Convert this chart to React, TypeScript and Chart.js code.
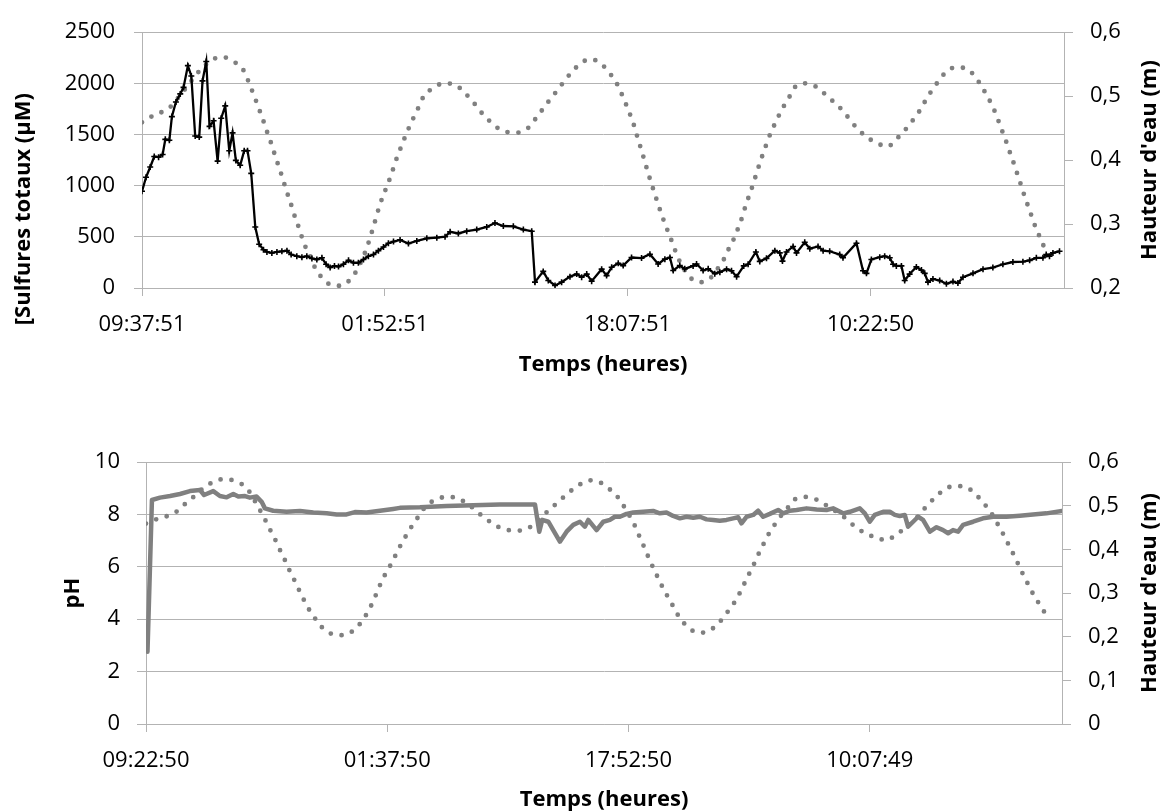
import { useEffect, useRef } from "react";
import { Chart, registerables } from "chart.js";

Chart.register(...registerables);

// ---- Time axes (hours since first sample) ----
const timeSpanHours = 61.7;
const timeTickHours = [0, 16.25, 32.5, 48.75];
const sulfideTimeLabels = ["09:37:51", "01:52:51", "18:07:51", "10:22:50"];
const phTimeLabels = ["09:22:50", "01:37:50", "17:52:50", "10:07:49"];

// ---- Value axes ----
const sulfideTicks = [0, 500, 1000, 1500, 2000, 2500];
const phTicks = [0, 2, 4, 6, 8, 10];
const waterTicksUpper = [0.2, 0.3, 0.4, 0.5, 0.6];
const waterTicksLower = [0, 0.1, 0.2, 0.3, 0.4, 0.5, 0.6];

// ---- Total sulfides (µM) ----
const sulfideHours = [
  0, 0.27, 0.55, 0.82, 1.11, 1.38, 1.56, 1.83, 2.0, 2.27, 2.56, 2.78, 3.07, 3.3, 3.56, 3.83,
  4.05, 4.3, 4.52, 4.79, 5.06, 5.3, 5.57, 5.84, 6.06, 6.28, 6.57, 6.84, 7.06, 7.31, 7.58, 7.84,
  8.13, 8.36, 8.69, 9.03, 9.36, 9.7, 9.98, 10.36, 10.7, 11.03, 11.37, 11.7, 12.04, 12.32, 12.59,
  12.88, 13.15, 13.48, 13.82, 14.15, 14.48, 14.82, 15.15, 15.49, 15.82, 16.16, 16.49, 16.83,
  17.27, 17.83, 18.39, 19.06, 19.73, 20.28, 20.62, 21.17, 21.73, 22.4, 23.07, 23.62, 24.18,
  24.85, 25.52, 26.08, 26.3, 26.85, 27.19, 27.64, 28.08, 28.64, 29.09, 29.42, 29.76, 30.09,
  30.76, 31.09, 31.43, 31.87, 32.2, 32.76, 33.43, 33.99, 34.54, 34.99, 35.33, 35.55, 35.99,
  36.32, 36.88, 37.11, 37.55, 37.89, 38.33, 38.67, 39.12, 39.45, 39.79, 40.27, 40.56, 41.08,
  41.34, 41.79, 42.35, 42.68, 42.86, 43.13, 43.57, 43.8, 44.35, 44.69, 45.24, 45.58, 46.02,
  46.69, 46.91, 47.81, 48.25, 48.48, 48.81, 49.37, 49.7, 50.04, 50.26, 50.48, 50.82, 51.04,
  51.37, 51.82, 52.16, 52.38, 52.6, 52.93, 53.38, 53.83, 54.27, 54.6, 54.94, 55.61, 56.28,
  56.94, 57.61, 58.28, 58.95, 59.4, 59.85, 60.29, 60.51, 60.73, 60.96, 61.4,
];
const sulfideValues = [
  945, 1082, 1183, 1285, 1279, 1304, 1453, 1444, 1675, 1818, 1897, 1961, 2173, 2072, 1485, 1475,
  2024, 2214, 1580, 1634, 1240, 1659, 1780, 1342, 1516, 1247, 1199, 1342, 1342, 1120, 596, 428,
  374, 352, 343, 352, 358, 365, 327, 311, 301, 311, 289, 279, 295, 232, 200,
  216, 209, 232, 270, 247, 247, 279, 311, 327, 365, 400, 438, 454,
  470, 435, 460, 485, 492, 501, 549, 533, 555, 571, 597, 635, 606,
  603, 571, 555, 57, 162, 73, 25, 57, 111, 136, 105, 136, 67,
  184, 121, 203, 241, 219, 298, 292, 330, 235, 282, 298, 171, 219,
  187, 216, 235, 171, 187, 140, 155, 184, 168, 111, 216, 232, 352,
  260, 290, 365, 343, 263, 352, 406, 343, 447, 384, 406, 365, 359,
  327, 295, 438, 168, 143, 279, 301, 311, 295, 232, 216, 216, 73,
  136, 206, 175, 143, 57, 89, 73, 41, 63, 48, 105, 143, 184,
  200, 232, 254, 257, 270, 295, 295, 327, 311, 343, 359,
];

// ---- Water height (m) ----
const waterHours = [
  0, 0.78, 1.49, 2.1, 2.56, 3.07, 3.56, 4.08, 4.68, 5.42, 6.13, 6.75, 7.08, 7.36, 7.64, 7.91,
  8.18, 8.43, 8.7, 8.93, 9.18, 9.43, 9.65, 9.92, 10.14, 10.4, 10.65, 10.9, 11.25, 11.54, 11.97,
  12.54, 13.26, 13.93, 14.33, 15.0, 15.49, 15.93, 16.2, 16.49, 16.76, 17.0, 17.27, 17.56, 17.87,
  18.2, 18.54, 18.87, 19.46, 20.17, 20.95, 21.55, 22.11, 22.58, 23.11, 23.69, 24.41, 25.14,
  25.85, 26.35, 26.83, 27.3, 27.79, 28.26, 28.77, 29.35, 29.98, 30.71, 31.25, 31.72, 32.05,
  32.36, 32.65, 32.92, 33.14, 33.37, 33.59, 33.81, 34.04, 34.28, 34.52, 34.77, 35.04, 35.33,
  35.6, 35.88, 36.26, 36.71, 37.38, 38.05, 38.52, 38.94, 39.28, 39.63, 39.92, 40.19, 40.41,
  40.68, 40.92, 41.16, 41.41, 41.66, 41.92, 42.23, 42.56, 42.95, 43.35, 43.73, 44.42, 45.13,
  45.76, 46.36, 46.9, 47.41, 47.92, 48.5, 49.19, 49.88, 50.48, 51.04, 51.53, 52.0, 52.38, 52.8,
  53.27, 53.76, 54.43, 55.1, 55.72, 56.16, 56.54, 56.9, 57.21, 57.48, 57.77, 58.02, 58.28,
  58.53, 58.78, 59.02, 59.27, 59.53, 59.8, 60.1, 60.42, 60.73,
];
const waterLevels = [
  0.459, 0.47, 0.477, 0.4875, 0.502, 0.516, 0.532, 0.545, 0.557, 0.561, 0.554, 0.542, 0.5255, 0.509, 0.492, 0.475,
  0.4575, 0.44, 0.4225, 0.405, 0.388, 0.37, 0.353, 0.335, 0.3176, 0.301, 0.283, 0.2665, 0.25, 0.2335, 0.218,
  0.206, 0.2035, 0.213, 0.226, 0.26, 0.296, 0.331, 0.348, 0.365, 0.383, 0.4, 0.4165, 0.4337, 0.451,
  0.4677, 0.484, 0.5007, 0.512, 0.52, 0.518, 0.506, 0.4925, 0.478, 0.4646, 0.452, 0.444, 0.443,
  0.4505, 0.465, 0.48, 0.4946, 0.509, 0.5235, 0.538, 0.551, 0.558, 0.551, 0.537, 0.522, 0.506,
  0.489, 0.472, 0.4545, 0.437, 0.4195, 0.4023, 0.3845, 0.3668, 0.3495, 0.3323, 0.315, 0.2978, 0.2806,
  0.2639, 0.2467, 0.23, 0.2157, 0.209, 0.2157, 0.23, 0.245, 0.262, 0.278, 0.2953, 0.3125, 0.33,
  0.3475, 0.364, 0.382, 0.4, 0.4165, 0.4337, 0.4505, 0.467, 0.4844, 0.5, 0.515, 0.52, 0.5144,
  0.502, 0.4894, 0.4773, 0.462, 0.448, 0.436, 0.4266, 0.421, 0.4327, 0.4464, 0.4606, 0.4757, 0.491, 0.507,
  0.5224, 0.5366, 0.545, 0.5437, 0.5316, 0.516, 0.501, 0.485, 0.468, 0.4505, 0.433, 0.416, 0.399,
  0.3815, 0.364, 0.3465, 0.3297, 0.3125, 0.2948, 0.2786, 0.2613, 0.2452,
];

// ---- pH ----
const phHours = [
  0.1, 0.4, 0.94, 1.62, 2.29, 2.96, 3.64, 3.91, 4.53, 4.98, 5.43, 5.88, 6.22, 6.67, 7.0, 7.45,
  7.79, 8.01, 8.57, 9.47, 10.37, 11.27, 12.17, 12.84, 13.51, 14.07, 14.86, 15.76, 16.65, 17.1,
  18.45, 20.25, 22.04, 23.84, 25.19, 26.2, 26.49, 26.69, 27.1, 27.43, 27.88, 28.33, 28.78,
  29.23, 29.56, 29.79, 30.35, 30.8, 31.25, 31.58, 31.92, 32.37, 32.82, 33.49, 34.16, 34.61,
  35.06, 35.51, 35.96, 36.41, 36.86, 37.31, 37.76, 38.2, 38.65, 39.1, 39.55, 39.89, 40.11,
  40.45, 40.9, 41.23, 41.57, 42.02, 42.58, 42.92, 43.37, 43.82, 44.49, 45.17, 45.84, 46.28,
  46.96, 47.41, 48.08, 48.42, 48.75, 49.09, 49.65, 50.1, 50.44, 50.77, 51.11, 51.33, 51.67,
  52.01, 52.34, 52.8, 53.25, 53.69, 54.03, 54.36, 54.7, 55.04, 55.71, 56.38, 57.06, 57.96,
  58.86, 59.75, 60.65, 61.7,
];
const phValues = [
  2.76, 8.55, 8.64, 8.7, 8.78, 8.89, 8.93, 8.74, 8.89, 8.7, 8.65, 8.78, 8.68, 8.7, 8.64, 8.68,
  8.48, 8.23, 8.14, 8.1, 8.13, 8.07, 8.04, 8.0, 8.0, 8.09, 8.07, 8.14, 8.21, 8.25,
  8.27, 8.32, 8.35, 8.38, 8.38, 8.38, 7.34, 7.79, 7.72, 7.4, 6.96, 7.34, 7.6,
  7.72, 7.53, 7.79, 7.4, 7.72, 7.79, 7.91, 7.91, 8.02, 8.07, 8.1, 8.13, 8.04,
  8.07, 7.94, 7.85, 7.91, 7.87, 7.91, 7.81, 7.79, 7.76, 7.79, 7.85, 7.89, 7.66,
  7.91, 7.98, 8.14, 7.91, 8.02, 8.17, 8.04, 8.14, 8.17, 8.23, 8.19, 8.17, 8.23,
  8.04, 8.1, 8.23, 8.04, 7.72, 7.98, 8.1, 8.1, 7.98, 7.94, 7.98, 7.53, 7.72,
  7.91, 7.79, 7.34, 7.51, 7.4, 7.28, 7.4, 7.34, 7.6, 7.72, 7.85, 7.91, 7.91,
  7.95, 8.0, 8.04, 8.13,
];

// ---- Styling ----
const FONT = '"Open Sans", "Noto Sans", sans-serif';
const GRID = "#b3b3b3";
const SERIES_GREY = "#808080";
const tickFont = { family: FONT, size: 22 };
const WIDTH = 1166;

const zip = (xs: number[], ys: number[]) => xs.map((x, i) => ({ x, y: ys[i] }));
const decimalComma = (v: number) => (v === 0 ? "0" : v.toFixed(1).replace(".", ","));

type TitleSpec = { text: string; dx: number; dy: number; anchor: "left" | "right" | "bottom"; rotate: boolean };

// Axis titles drawn relative to the plot area (vertical ones read bottom-to-top on both sides).
const axisTitlePlugin = (titles: TitleSpec[]) => ({
  id: "axisTitles",
  afterDraw(chart: Chart) {
    const { ctx, chartArea } = chart;
    const cx = (chartArea.left + chartArea.right) / 2;
    const cy = (chartArea.top + chartArea.bottom) / 2;
    ctx.save();
    ctx.font = `bold 22px ${FONT}`;
    ctx.fillStyle = "#000";
    ctx.textAlign = "center";
    ctx.textBaseline = "middle";
    for (const t of titles) {
      let x = cx;
      let y = cy;
      if (t.anchor === "left") x = t.dx;
      if (t.anchor === "right") x = chartArea.right + t.dx;
      if (t.anchor === "bottom") y = chartArea.bottom + t.dy;
      else y = cy + t.dy;
      ctx.save();
      ctx.translate(x, y);
      if (t.rotate) ctx.rotate(-Math.PI / 2);
      ctx.fillText(t.text, 0, 0);
      ctx.restore();
    }
    ctx.restore();
  },
});

function timeAxis(labels: string[], height: number) {
  return {
    type: "linear" as const,
    min: 0,
    max: timeSpanHours,
    afterBuildTicks: (s: any) => {
      s.ticks = timeTickHours.map((value) => ({ value }));
    },
    afterFit: (s: any) => {
      s.height = height;
    },
    ticks: {
      callback: (_v: any, i: number) => labels[i],
      font: tickFont,
      color: "#000",
      padding: 16,
      maxRotation: 0,
      autoSkip: false,
    },
    grid: { drawOnChartArea: false, drawTicks: true, tickLength: 8, color: GRID, lineWidth: 1 },
    border: { display: true, color: GRID, width: 1 },
  };
}

function valueAxis(
  position: "left" | "right",
  min: number,
  max: number,
  ticks: number[],
  width: number,
  padding: number,
  tickLength: number,
  onArea: boolean,
  format?: (v: number) => string
) {
  return {
    type: "linear" as const,
    position,
    min,
    max,
    afterBuildTicks: (s: any) => {
      s.ticks = ticks.map((value) => ({ value }));
    },
    afterFit: (s: any) => {
      s.width = width;
    },
    ticks: {
      font: tickFont,
      color: "#000",
      padding,
      callback: (v: any) => (format ? format(Number(v)) : String(v)),
    },
    grid: { drawOnChartArea: onArea, drawTicks: true, tickLength, color: GRID, lineWidth: 1 },
    border: { display: true, color: GRID, width: 1 },
  };
}

const waterDataset = (axisId: string) => ({
  label: "Hauteur d'eau (m)",
  data: zip(waterHours, waterLevels),
  yAxisID: axisId,
  borderColor: SERIES_GREY,
  borderWidth: 4.8,
  borderDash: [0, 11],
  borderCapStyle: "round" as const,
  pointRadius: 0,
  cubicInterpolationMode: "monotone" as const,
});

function SulfideChart() {
  const ref = useRef<HTMLCanvasElement>(null);
  useEffect(() => {
    if (!ref.current) return;
    const chart = new Chart(ref.current, {
      type: "line",
      data: {
        datasets: [
          {
            label: "Sulfures totaux (µM)",
            data: zip(sulfideHours, sulfideValues),
            yAxisID: "y",
            borderColor: "#000",
            borderWidth: 2.3,
            pointStyle: "cross",
            pointRadius: 3,
            pointBorderWidth: 1.6,
            pointBorderColor: "#000",
            pointBackgroundColor: "#000",
            tension: 0,
          },
          waterDataset("y1"),
        ],
      },
      options: {
        animation: false,
        responsive: false,
        devicePixelRatio: 1,
        layout: { padding: { top: 25, left: 0, right: 0, bottom: 0 } },
        plugins: { legend: { display: false }, tooltip: { enabled: false } },
        scales: {
          x: timeAxis(sulfideTimeLabels, 112),
          y: valueAxis("left", 0, 2500, sulfideTicks, 142, 19, 8, true),
          y1: valueAxis("right", 0.2, 0.6, waterTicksUpper, 102, 17, 9, false, decimalComma),
        },
      },
      plugins: [
        axisTitlePlugin([
          { text: "[Sulfures totaux (µM)", anchor: "left", dx: 24, dy: 49, rotate: true },
          { text: "Hauteur d'eau (m)", anchor: "right", dx: 86, dy: 0, rotate: true },
          { text: "Temps (heures)", anchor: "bottom", dx: 0, dy: 77, rotate: false },
        ]),
      ],
    });
    return () => chart.destroy();
  }, []);
  return (
    <canvas
      ref={ref}
      width={WIDTH}
      height={400}
      style={{ position: "absolute", left: 0, top: 0, width: WIDTH, height: 400 }}
    />
  );
}

function PhChart() {
  const ref = useRef<HTMLCanvasElement>(null);
  useEffect(() => {
    if (!ref.current) return;
    const chart = new Chart(ref.current, {
      type: "line",
      data: {
        datasets: [
          {
            label: "pH",
            data: zip(phHours, phValues),
            yAxisID: "y",
            borderColor: SERIES_GREY,
            borderWidth: 4.5,
            borderJoinStyle: "round",
            borderCapStyle: "round",
            pointRadius: 0,
            tension: 0,
          },
          waterDataset("y1"),
        ],
      },
      options: {
        animation: false,
        responsive: false,
        devicePixelRatio: 1,
        layout: { padding: { top: 62, left: 0, right: 0, bottom: 0 } },
        plugins: { legend: { display: false }, tooltip: { enabled: false } },
        scales: {
          x: timeAxis(phTimeLabels, 88),
          y: valueAxis("left", 0, 10, phTicks, 146, 17, 9, true),
          y1: valueAxis("right", 0, 0.6, waterTicksLower, 104, 17, 9, false, decimalComma),
        },
      },
      plugins: [
        axisTitlePlugin([
          { text: "pH", anchor: "left", dx: 73, dy: 0, rotate: true },
          { text: "Hauteur d'eau (m)", anchor: "right", dx: 88, dy: 0, rotate: true },
          { text: "Temps (heures)", anchor: "bottom", dx: 0, dy: 76, rotate: false },
        ]),
      ],
    });
    return () => chart.destroy();
  }, []);
  return (
    <canvas
      ref={ref}
      width={WIDTH}
      height={412}
      style={{ position: "absolute", left: 0, top: 400, width: WIDTH, height: 412 }}
    />
  );
}

export default function App() {
  return (
    <div
      style={{
        position: "absolute",
        left: 0,
        top: 0,
        width: WIDTH,
        height: 812,
        background: "#fff",
        overflow: "hidden",
      }}
    >
      <SulfideChart />
      <PhChart />
    </div>
  );
}
